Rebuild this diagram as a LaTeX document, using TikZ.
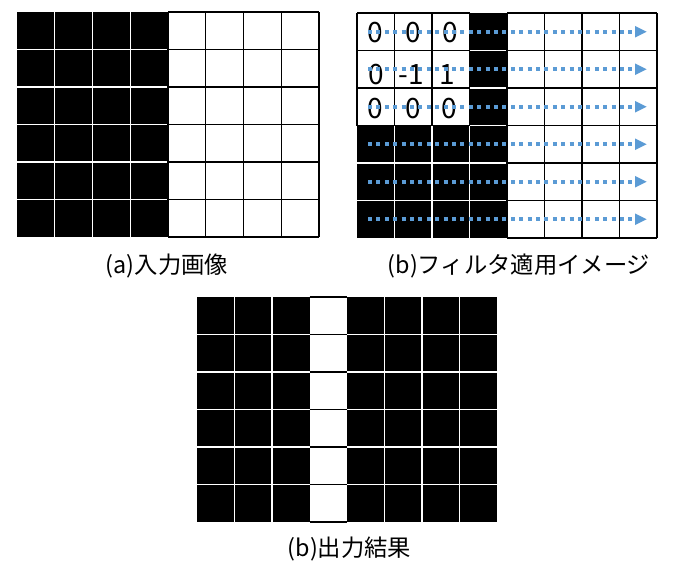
\documentclass[tikz,border=0pt]{standalone}
\usepackage{fontspec}
\setmainfont{Noto Sans CJK JP}
\usetikzlibrary{arrows.meta}
\definecolor{dotblue}{HTML}{5B9BD5}
\begin{document}
\begin{tikzpicture}[x=0.75pt,y=-0.75pt,
  wline/.style={draw=white,line width=0.9pt},
  bline/.style={draw=black,line width=0.9pt},
  scan/.style={draw=dotblue,line width=3pt,dash pattern=on 3pt off 3.3pt,-{Triangle[length=9pt,width=8pt]}},
  lbl/.style={font=\fontsize{17.5pt}{21pt}\selectfont,inner sep=0pt},
  num/.style={font=\fontsize{21pt}{24pt}\selectfont,inner sep=0pt}]
\useasboundingbox[fill=white] (0,0) rectangle (674,569);

% ---------- (a) input image ----------
\fill[black] (17,12) rectangle (168,237);
\foreach \i in {1,2,3} \draw[wline] ({17+\i*37.75},12) -- ({17+\i*37.75},237);
\foreach \j in {1,...,5} \draw[wline] (17,{12+\j*37.5}) -- (168,{12+\j*37.5});
\foreach \i in {4,...,8} \draw[bline] ({17+\i*37.75},12) -- ({17+\i*37.75},237);
\foreach \j in {0,...,6} \draw[bline] (168,{12+\j*37.5}) -- (319,{12+\j*37.5});
\node[lbl] (la) at (167,266) {(a)入力画像};

% ---------- (b) filter application ----------
\fill[black] (469.5,13) rectangle (507,238);
\fill[black] (357,125.5) rectangle (507,238);
\foreach \j in {1,...,5} \draw[wline] (469.5,{13+\j*37.5}) -- (507,{13+\j*37.5});
\foreach \j in {4,5} \draw[wline] (357,{13+\j*37.5}) -- (507,{13+\j*37.5});
\foreach \i in {1,2,3} \draw[wline] ({357+\i*37.5},125.5) -- ({357+\i*37.5},238);
\foreach \i in {0,...,3} \draw[bline] ({357+\i*37.5},13) -- ({357+\i*37.5},125.5);
\foreach \j in {0,...,3} \draw[bline] (357,{13+\j*37.5}) -- (469.5,{13+\j*37.5});
\foreach \i in {4,...,8} \draw[bline] ({357+\i*37.5},13) -- ({357+\i*37.5},238);
\foreach \j in {0,...,6} \draw[bline] (507,{13+\j*37.5}) -- (657,{13+\j*37.5});

\node[num] (k11) at (375.75,33) {0};
\node[num] (k12) at (413.25,33) {0};
\node[num] (k13) at (450.75,33) {0};
\node[num] (k21) at (376.75,74.5) {0};
\node[num] (k22) at (411.25,74.5) {-1};
\node[num] (k23) at (447.75,74.5) {1};
\node[num] (k31) at (375.75,108.5) {0};
\node[num] (k32) at (413.25,108.5) {0};
\node[num] (k33) at (449.75,108.5) {0};

\foreach \j in {0,...,5} {
  \coordinate (s\j) at (368,{31.75+\j*37.5});
  \coordinate (e\j) at (647,{31.75+\j*37.5});
  \draw[scan] (s\j) -- (e\j);
}
\node[lbl] (lb) at (519,266) {(b)フィルタ適用イメージ};

% ---------- (c) output ----------
\fill[black] (197,297) rectangle (309.5,522);
\fill[black] (347,297) rectangle (497,522);
\foreach \x in {234.5,272,384.5,422,459.5} \draw[wline] (\x,297) -- (\x,522);
\foreach \j in {1,...,5} {
  \draw[wline] (197,{297+\j*37.5}) -- (309.5,{297+\j*37.5});
  \draw[wline] (347,{297+\j*37.5}) -- (497,{297+\j*37.5});
}
\foreach \j in {0,...,6} \draw[bline] (309.5,{297+\j*37.5}) -- (347,{297+\j*37.5});
\node[lbl] (lc) at (349.5,549) {(b)出力結果};
\end{tikzpicture}
\end{document}
